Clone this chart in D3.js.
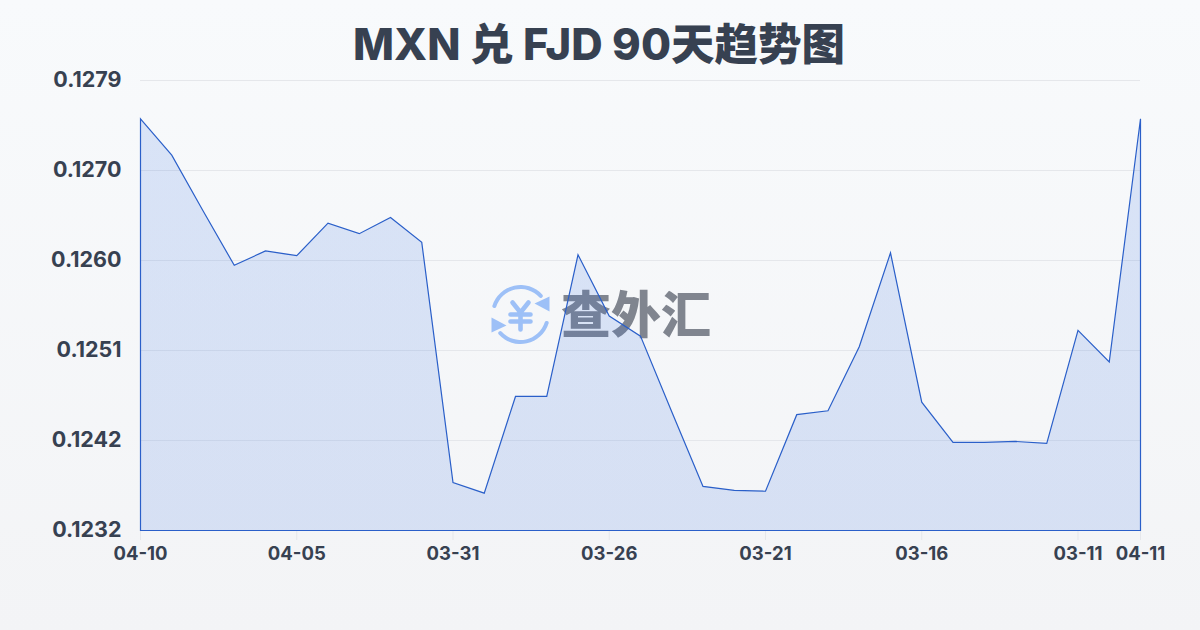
<!DOCTYPE html>
<html><head><meta charset="utf-8">
<script src="https://cdn.jsdelivr.net/npm/d3@7/dist/d3.min.js"></script>
<style>html,body{margin:0;padding:0;background:#f8f9fb}svg{display:block}</style>
</head><body><div id="c"></div>
<script>
const titleText = "MXN 兑 FJD 90天趋势图";
const rates = [0.12752,0.12714,0.12656,0.12599,0.12614,0.12609,0.12643,0.12632,0.12649,0.12623,0.12372,0.12361,0.12462,0.12462,0.12610,0.12546,0.12525,0.12446,0.12368,0.12364,0.12363,0.12443,0.12447,0.12514,0.12612,0.12456,0.12414,0.12414,0.12415,0.12413,0.12531,0.12498,0.12752];
const xTickIndex = [0,5,10,15,20,25,30,32];
const xTickLabels = ["04-10","04-05","03-31","03-26","03-21","03-16","03-11","04-11"];
const yTicks = [0.12322,0.12416,0.12510,0.12604,0.12698,0.12792];
const yTickLabels = ["0.1232","0.1242","0.1251","0.1260","0.1270","0.1279"];
const font = 'Inter,"Noto Sans CJK SC",sans-serif';
const W=1200,H=630;
const svg=d3.select("#c").append("svg").attr("width",W).attr("height",H).attr("viewBox",[0,0,W,H]);
const defs=svg.append("defs");
const bg=defs.append("linearGradient").attr("id","bg").attr("x1",0).attr("y1",0).attr("x2",0).attr("y2",1);
bg.append("stop").attr("offset",0).attr("stop-color","#f8fafc");
bg.append("stop").attr("offset",1).attr("stop-color","#f3f4f6");
const ag=defs.append("linearGradient").attr("id","ag").attr("x1",0).attr("y1",0).attr("x2",0).attr("y2",1);
ag.append("stop").attr("offset",0).attr("stop-color","#2f6ae0").attr("stop-opacity",0.15);
ag.append("stop").attr("offset",1).attr("stop-color","#2f6ae0").attr("stop-opacity",0.15);
svg.append("rect").attr("width",W).attr("height",H).attr("fill","url(#bg)");

const x=d3.scaleLinear().domain([0,rates.length-1]).range([140.5,1140.5]);
const y=d3.scaleLinear().domain([yTicks[0],yTicks[yTicks.length-1]]).range([530.5,80.5]);

// grid
svg.append("g").selectAll("line").data(yTicks).join("line")
 .attr("x1",140).attr("x2",1140).attr("y1",d=>Math.floor(y(d))+0.5).attr("y2",d=>Math.floor(y(d))+0.5)
 .attr("stroke","#e5e7eb").attr("stroke-width",1);

// watermark
const wm=svg.append("g");
const blue="#9dc0f7";
const cx=520.5,cy=314.5;
const arc=d3.arc().innerRadius(25.5).outerRadius(29.5).cornerRadius(2);
const a1=wm.append("g").attr("transform",`translate(${cx},${cy})`).attr("fill",blue);
a1.append("path").attr("d",arc({startAngle:-1.33,endAngle:0.9}));
a1.append("path").attr("d",arc({startAngle:1.81,endAngle:4.04}));
a1.append("path").attr("d","M29,-18 L29,-3 L14,-11 Z");
a1.append("path").attr("d","M-29,18 L-29,3 L-14,11 Z");
const yen=wm.append("g").attr("transform",`translate(${cx},${cy})`).attr("stroke",blue).attr("stroke-width",4.6).attr("stroke-linecap","round").attr("fill","none");
yen.append("path").attr("d","M-8,-12 L0,-2 L8,-12 M0,-2 V15 M-10,0 H10 M-10,7 H10");
wm.append("text").attr("x",636).attr("y",333).attr("text-anchor","middle")
 .attr("font-family",'"Noto Sans CJK SC",sans-serif').attr("font-weight",900).attr("font-size",50)
 .attr("fill","#80858f").text("查外汇");

// area
const pts=rates.map((d,i)=>[i,d]);
const area=d3.area().x(d=>x(d[0])).y0(530.5).y1(d=>y(d[1]));
svg.append("path").datum(pts).attr("d",area).attr("fill","url(#ag)").attr("stroke","#2a5fc9").attr("stroke-width",1.2).attr("stroke-linejoin","miter");

// x ticks
const xg=svg.append("g");
xg.selectAll("line").data(xTickIndex).join("line")
 .attr("x1",d=>x(d)).attr("x2",d=>x(d)).attr("y1",531).attr("y2",540)
 .attr("stroke","#e5e7eb");
xg.selectAll("text").data(xTickIndex).join("text")
 .attr("x",d=>x(d)).attr("y",560).attr("text-anchor","middle")
 .attr("font-family",font).attr("font-weight",700).attr("font-size",18.5).attr("fill","#374151")
 .text((d,i)=>xTickLabels[i]);

// y labels
svg.append("g").selectAll("text").data(yTicks).join("text")
 .attr("x",121.5).attr("y",d=>y(d)+6).attr("text-anchor","end")
 .attr("font-family",font).attr("font-weight",700).attr("font-size",21.5).attr("fill","#374151")
 .text((d,i)=>yTickLabels[i]);

// title
svg.append("text").attr("x",599).attr("y",60).attr("text-anchor","middle")
 .attr("font-family",font).attr("font-weight",800).attr("font-size",43.5).attr("fill","#374151").text(titleText);
</script></body></html>
